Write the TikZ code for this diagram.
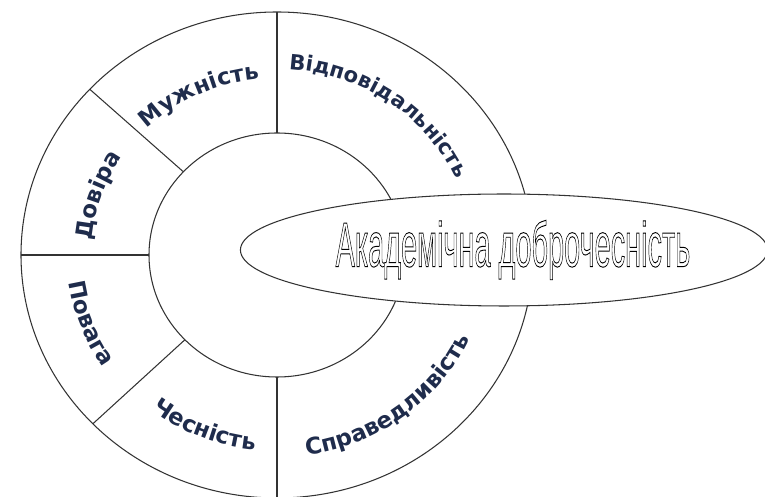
\documentclass[tikz,border=0pt]{standalone}
\usepackage{fontspec}
\usepackage{graphicx}
\usetikzlibrary{positioning, shapes.geometric, decorations.text}
\newfontfamily\arcfam{DejaVu Sans}
\newfontfamily\titlefam{Liberation Sans}
\definecolor{textnavy}{HTML}{1F2C4C}
\definecolor{ringline}{HTML}{333333}

\tikzset{
  ring/.style={draw=ringline, line width=0.6pt},
  arclabel/.style 2 args={decorate, decoration={text along path, text align=center,
      text color=textnavy, text={|\arcfam\bfseries\fontsize{#2}{#2}\selectfont|#1}}},
}

\begin{document}
\begin{tikzpicture}[x=0.02cm, y=0.02cm]
  \useasboundingbox (0,0) rectangle (765,497);
  \coordinate (c) at (277,242);

  % ring and its six parts
  \draw[ring] (c) ellipse[x radius=256, y radius=243];
  \draw[ring] (c) ellipse[x radius=128, y radius=122];
  \foreach \a in {90,137,180,224,270}
    \draw[ring, shift={(c)}] (\a:128 and 122) -- (\a:256 and 243);

  % values, upper half reads clockwise, lower half anticlockwise
  \path[arclabel={Мужність}{13}] (c) ++(145:186 and 177)
    arc[start angle=145, end angle=85, x radius=186, y radius=177];
  \path[arclabel={Відповідальність}{12}] (c) ++(98:196 and 186)
    arc[start angle=98, end angle=12, x radius=196, y radius=186];
  \path[arclabel={Довіра}{13}] (c) ++(186:186 and 177)
    arc[start angle=186, end angle=136, x radius=186, y radius=177];
  \path[arclabel={Повага}{13}] (c) ++(176:210 and 200)
    arc[start angle=176, end angle=226, x radius=210, y radius=200];
  \path[arclabel={Чесність}{13}] (c) ++(222:206 and 196)
    arc[start angle=222, end angle=274, x radius=206, y radius=196];
  \path[arclabel={Справедливість}{13}] (c) ++(268:212 and 202)
    arc[start angle=268, end angle=346, x radius=212, y radius=202];

  % goal
  \node[ellipse, ring, fill=white, minimum width=10.4cm, minimum height=2.24cm,
        inner sep=0pt] (goal) at (504,247)
    {\titlefam\fontsize{36}{40}\selectfont\hspace{0.36cm}\scalebox{0.457}[1]{%
      \special{pdf:literal direct 1 Tr 0.55 w}Академічна доброчесність%
      \special{pdf:literal direct 0 Tr}}};
\end{tikzpicture}
\end{document}
